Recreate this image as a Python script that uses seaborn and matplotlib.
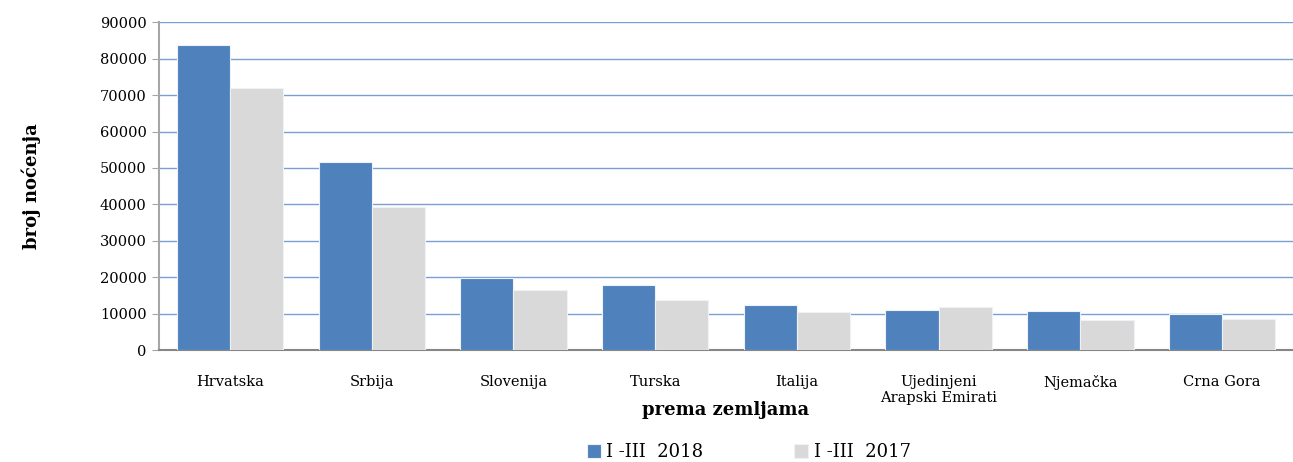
import pandas as pd
import matplotlib
matplotlib.use("Agg")
import matplotlib.pyplot as plt
import seaborn as sns

# Podaci (očitano s grafikona)
zemlje = ["Hrvatska", "Srbija", "Slovenija", "Turska", "Italija",
          "Ujedinjeni\nArapski Emirati", "Njemačka", "Crna Gora"]
nocenja_2018 = [83700, 51700, 19800, 17800, 12300, 11000, 10800, 9850]
nocenja_2017 = [72000, 39400, 16500, 13700, 10400, 11750, 8300, 8500]
serije = ["I -III  2018", "I -III  2017"]

df = pd.DataFrame({
    "zemlja": zemlje * 2,
    "nocenja": nocenja_2018 + nocenja_2017,
    "period": [serije[0]] * len(zemlje) + [serije[1]] * len(zemlje),
})

sns.set_style("white")
plt.rcParams['font.family'] = ['DejaVu Serif']
plt.rcParams['text.color'] = 'black'
plt.rcParams['axes.labelcolor'] = 'black'
plt.rcParams['xtick.color'] = 'black'
plt.rcParams['ytick.color'] = 'black'

fig, ax = plt.subplots(figsize=(12.93, 4.62), dpi=100)
fig.subplots_adjust(left=0.123, right=1.0, top=0.952, bottom=0.242)

sns.barplot(data=df, x="zemlja", y="nocenja", hue="period",
            palette=["#4F81BD", "#D9D9D9"], width=0.75, ax=ax,
            edgecolor="#eef2f8", linewidth=0.8, saturation=1, zorder=3)

ax.set_ylim(0, 90000)
ax.set_yticks(range(0, 90001, 10000))
ax.set_xlim(-0.5, len(zemlje) - 0.5)
ax.yaxis.grid(True, color="#7a9fd0", linewidth=1.0, zorder=0)
ax.set_axisbelow(True)

for s in ["top", "right"]:
    ax.spines[s].set_visible(False)
ax.spines["left"].set_color("#a6a6a6")
ax.spines["left"].set_linewidth(1.5)
ax.spines["bottom"].set_color("#868686")
ax.spines["bottom"].set_linewidth(1.5)

ax.tick_params(axis="y", left=True, length=5, color="#a6a6a6", labelcolor="black",
               labelsize=10.5, pad=4)
ax.tick_params(axis="x", bottom=False, labelsize=10.5, pad=14)

ax.set_ylabel("broj noćenja", fontsize=13, fontweight="bold", labelpad=42)
ax.set_xlabel("prema zemljama", fontsize=13, fontweight="bold", labelpad=-3)

ax.legend(loc="center", bbox_to_anchor=(0.52, -0.31), ncol=2,
          frameon=False, fontsize=13, handlelength=0.8, handleheight=0.8,
          columnspacing=5, handletextpad=0.3)

plt.savefig("out.png", dpi=100)
